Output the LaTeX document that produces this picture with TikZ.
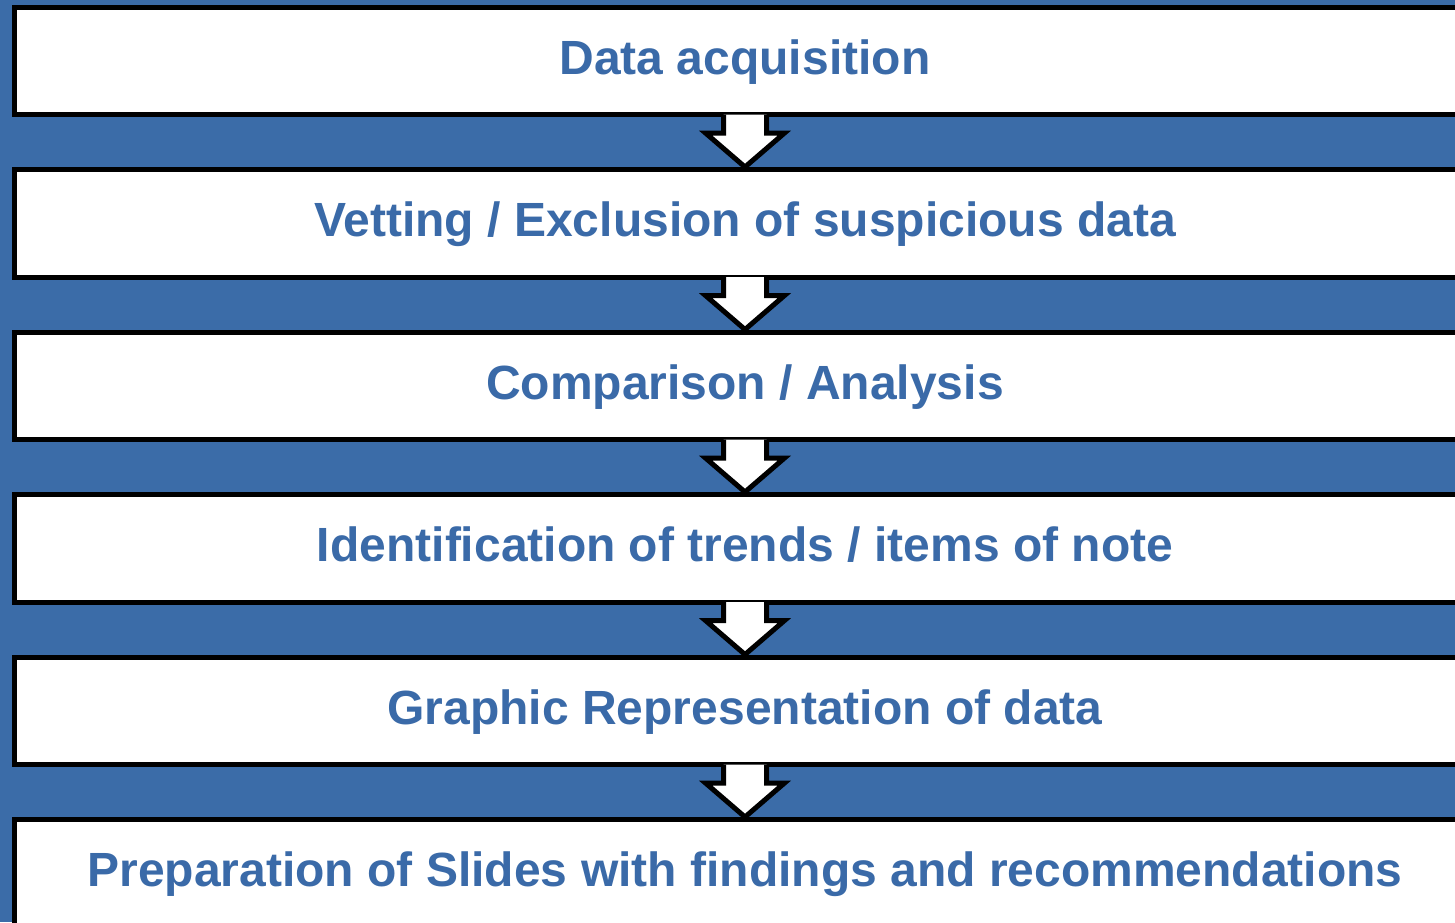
\documentclass[tikz,border=0pt]{standalone}
\usepackage{fontspec}
\setmainfont{Liberation Sans}
\usetikzlibrary{calc}
\definecolor{bgblue}{RGB}{59,108,168}
\definecolor{txtblue}{RGB}{58,106,168}
\tikzset{
  stepbox/.style={draw=black, fill=white, line width=5pt, minimum width=1462pt, minimum height=107.5pt,
    inner sep=0pt, text height=37pt, text depth=10pt, text=txtblue, font=\fontsize{48}{57}\selectfont\bfseries},
  arrowline/.style={draw=black, line width=5pt, line join=miter},
}
\begin{document}
\begin{tikzpicture}[x=1pt,y=1pt]
\useasboundingbox (0,0) rectangle (1455,-922);
\fill[bgblue] (0,0) rectangle (1455,-922);
\clip (0,0) rectangle (1455,-922);
\node[stepbox] (n1) at (745,-60.75) {Data acquisition};
\node[stepbox] (n2) at (745,-223.25) {Vetting / Exclusion of suspicious data};
\node[stepbox] (n3) at (745,-385.75) {Comparison / Analysis};
\node[stepbox] (n4) at (745,-548.25) {Identification of trends / items of note};
\node[stepbox] (n5) at (745,-710.75) {Graphic Representation of data};
\node[stepbox] (n6) at (745,-873.25) {Preparation of Slides with findings and recommendations};
\foreach \a/\b in {n1/n2,n2/n3,n3/n4,n4/n5,n5/n6}{
  \fill[white] ($(\a.south)+(-21.5,2.5)$) -- ($(\a.south)+(-21.5,-16)$) -- ($(\a.south)+(-39.5,-16)$) -- (\b.north)
     -- ($(\a.south)+(39.5,-16)$) -- ($(\a.south)+(21.5,-16)$) -- ($(\a.south)+(21.5,2.5)$) -- cycle;
  \draw[arrowline] ($(\a.south)+(-21.5,2.5)$) -- ($(\a.south)+(-21.5,-16)$) -- ($(\a.south)+(-39.5,-16)$) -- (\b.north)
     -- ($(\a.south)+(39.5,-16)$) -- ($(\a.south)+(21.5,-16)$) -- ($(\a.south)+(21.5,2.5)$);
}
\end{tikzpicture}
\end{document}
